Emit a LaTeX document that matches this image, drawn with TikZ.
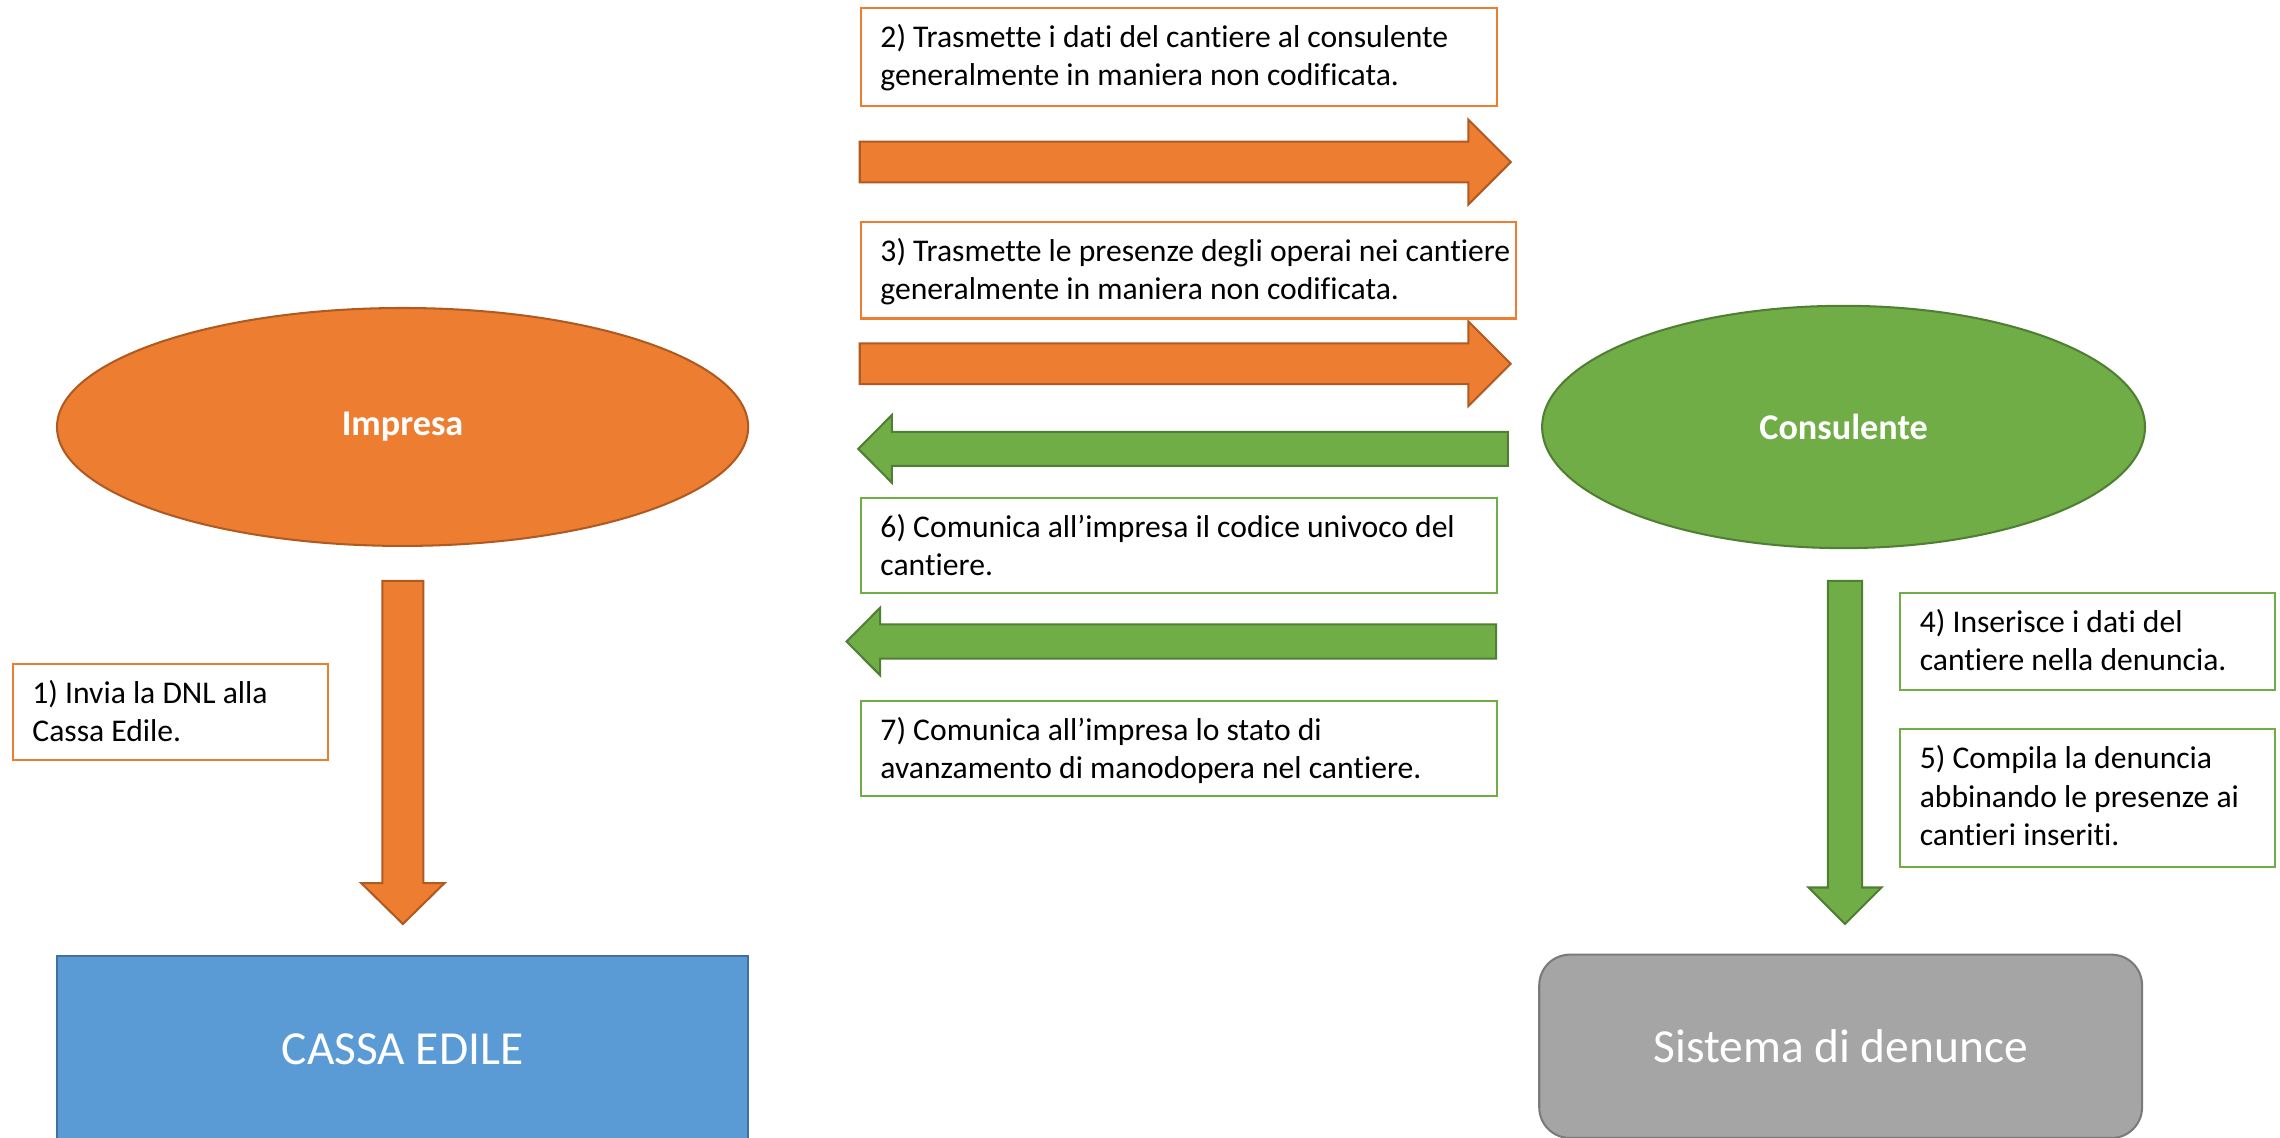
\documentclass[tikz,border=0pt]{standalone}
\usepackage{fontspec}
\setmainfont{Carlito}[Ligatures={NoCommon}]
\usetikzlibrary{shapes.geometric}
\definecolor{orF}{HTML}{ED7D31}
\definecolor{orD}{HTML}{AE5A21}
\definecolor{grF}{HTML}{70AD47}
\definecolor{grD}{HTML}{507E32}
\definecolor{blF}{HTML}{5B9BD5}
\definecolor{blD}{HTML}{41719C}
\definecolor{gyF}{HTML}{A5A5A5}
\definecolor{gyD}{HTML}{7A7A7A}
% horizontal block arrow: start x, head-base x, tip x, centre y, shaft half, head half, style
\newcommand{\hblk}[7]{\filldraw[#7] (#1,#4-#5) -- (#2,#4-#5) -- (#2,#4-#6) -- (#3,#4) -- (#2,#4+#6) -- (#2,#4+#5) -- (#1,#4+#5) -- cycle;}
% vertical block arrow: start y, head-base y, tip y, centre x, shaft half, head half, style
\newcommand{\vblk}[7]{\filldraw[#7] (#4-#5,#1) -- (#4-#5,#2) -- (#4-#6,#2) -- (#4,#3) -- (#4+#6,#2) -- (#4+#5,#2) -- (#4+#5,#1) -- cycle;}
\begin{document}
\begin{tikzpicture}[x=1pt,y=-1pt,
  tbox/.style={draw=#1, line width=1.4pt, fill=white, anchor=north west, inner sep=0},
  ttext/.style={anchor=north west, inner sep=0, align=left, font=\fontsize{21.66}{26.3}\selectfont},
  oarr/.style={fill=orF, draw=orD, line width=1.4pt, line join=miter},
  garr/.style={fill=grF, draw=grD, line width=1.4pt, line join=miter},
  actor/.style={ellipse, line width=1.4pt, inner sep=0, text=white, font=\fontsize{24.8}{30}\selectfont\bfseries},
  target/.style={rectangle, line width=1.4pt, inner sep=0, text=white, font=\fontsize{32.5}{39}\selectfont}
]
\useasboundingbox (0,0) rectangle (1562,779.6);
\clip (0,0) rectangle (1562,779.6);

% main shapes
\node[actor, fill=orF, draw=orD, minimum width=473.5pt, minimum height=163pt] (imp) at (275.8,292.5) {Impresa};
\node[actor, fill=grF, draw=grD, minimum width=413pt, minimum height=166pt] (cons) at (1263,292.5) {Consulente};
\node[target, fill=blF, draw=blD, minimum width=473.5pt, minimum height=128pt] (cassa) at (275.8,719) {CASSA EDILE};
\node[target, fill=gyF, draw=gyD, rounded corners=21pt, minimum width=413pt, minimum height=125.6pt] (sist) at (1261,716.8) {Sistema di denunce};

% block arrows
\hblk{589}{1006}{1035}{111}{14}{29}{oarr}
\hblk{589}{1006}{1035}{249.2}{14}{29}{oarr}
\hblk{1033}{611}{588}{307.5}{11.7}{23.2}{garr}
\hblk{1025}{603}{580}{439.5}{11.7}{23.2}{garr}
\vblk{398}{605}{633}{276}{14}{28.5}{oarr}
\vblk{398}{608}{633}{1264}{11.7}{25}{garr}

% text boxes
\node[tbox=orF, minimum width=436pt, minimum height=67.4pt] (b2) at (589,4.6) {};
\node[ttext] (t2) at (603,15.1) {\rule{0pt}{17pt}2) Trasmette i dati del cantiere al consulente\\generalmente in maniera non codificata.};

\node[tbox=orF, minimum width=449pt, minimum height=66.1pt] (b3) at (589,151.4) {};
\node[ttext] (t3) at (603,161.9) {\rule{0pt}{17pt}3) Trasmette le presenze degli operai nei cantiere\\generalmente in maniera non codificata.};

\node[tbox=grF, minimum width=436pt, minimum height=64.8pt] (b6) at (589,340.5) {};
\node[ttext] (t6) at (603,351) {\rule{0pt}{17pt}6) Comunica all’impresa il codice univoco del\\cantiere.};

\node[tbox=grF, minimum width=436pt, minimum height=65.1pt] (b7) at (589,479.5) {};
\node[ttext] (t7) at (603,490) {\rule{0pt}{17pt}7) Comunica all’impresa lo stato di\\avanzamento di manodopera nel cantiere.};

\node[tbox=orF, minimum width=216pt, minimum height=66pt] (b1) at (8,454) {};
\node[ttext] (t1) at (22,464.5) {\rule{0pt}{17pt}1) Invia la DNL alla\\Cassa Edile.};

\node[tbox=grF, minimum width=257pt, minimum height=66.5pt] (b4) at (1301,405.5) {};
\node[ttext] (t4) at (1315,416) {\rule{0pt}{17pt}4) Inserisce i dati del\\cantiere nella denuncia.};

\node[tbox=grF, minimum width=257pt, minimum height=94pt] (b5) at (1301,499) {};
\node[ttext] (t5) at (1315,509.5) {\rule{0pt}{17pt}5) Compila la denuncia\\abbinando le presenze ai\\cantieri inseriti.};
\end{tikzpicture}
\end{document}
